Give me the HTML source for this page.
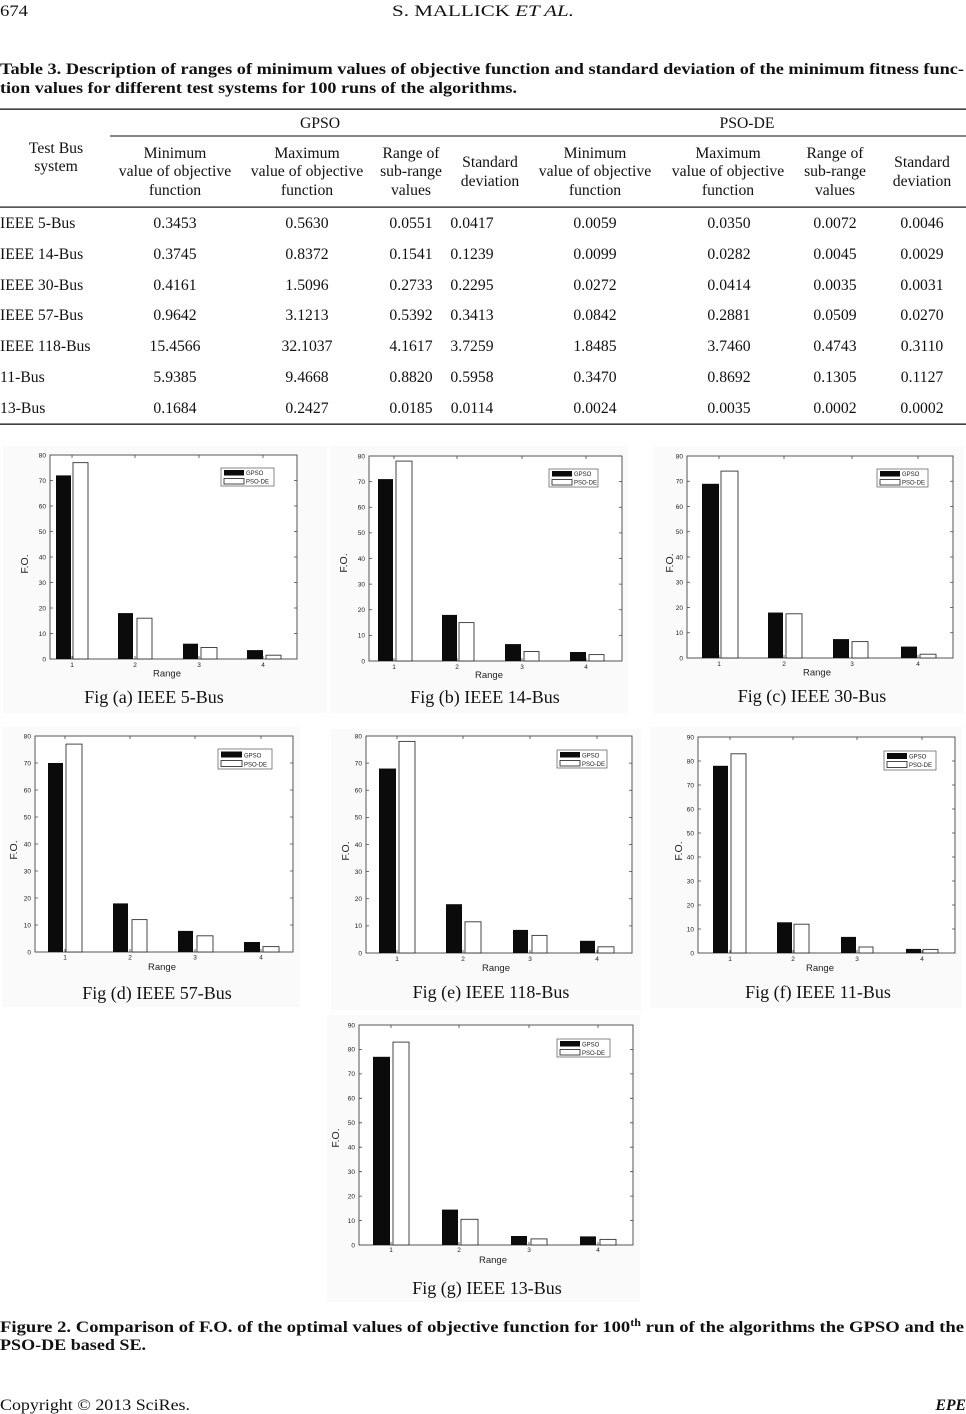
<!DOCTYPE html>
<html>
<head>
<meta charset="utf-8">
<style>
html,body{margin:0;padding:0;background:#fff;}
svg{display:block;}
.t{font-family:"Liberation Serif",serif;font-size:15.7px;fill:#111;}
.tb{font-family:"Liberation Serif",serif;font-size:15.5px;font-weight:bold;fill:#111;}
.ax{fill:#fff;stroke:#444;stroke-width:0.9;}
.tk{stroke:#444;stroke-width:0.8;fill:none;}
.bk{fill:#0b0b0b;}
.wh{fill:#fff;stroke:#333;stroke-width:0.9;}
.tl{font-family:"Liberation Sans",sans-serif;font-size:6.5px;fill:#222;}
.lg{font-family:"Liberation Sans",sans-serif;font-size:6px;fill:#222;}
.lb{font-family:"Liberation Sans",sans-serif;font-size:9.5px;fill:#222;}
.fo{font-family:"Liberation Sans",sans-serif;font-size:10.5px;fill:#222;}
.cap{font-family:"Liberation Serif",serif;font-size:18px;fill:#111;}
.pn{fill:#fafafa;}
.lgb{fill:#fff;stroke:#555;stroke-width:0.7;}
</style>
</head>
<body>
<svg width="966" height="1414" viewBox="0 0 966 1414" xmlns="http://www.w3.org/2000/svg">
<rect x="0" y="0" width="966" height="1414" fill="#fff"/>

<!-- Header -->
<text class="t" x="0" y="16" font-size="19" textLength="28" lengthAdjust="spacingAndGlyphs">674</text>
<text class="t" x="392" y="16" font-size="19" textLength="182" lengthAdjust="spacingAndGlyphs">S. MALLICK <tspan font-style="italic">ET AL.</tspan></text>

<!-- Table title -->
<text class="tb" x="0" y="74" font-size="16" textLength="964" lengthAdjust="spacingAndGlyphs">Table 3. Description of ranges of minimum values of objective function and standard deviation of the minimum fitness func-</text>
<text class="tb" x="0" y="93" font-size="16" textLength="517" lengthAdjust="spacingAndGlyphs">tion values for different test systems for 100 runs of the algorithms.</text>

<!-- Table rules -->
<rect x="0" y="108.5" width="966" height="1.3" fill="#111"/>
<rect x="110" y="135.5" width="856" height="1" fill="#111"/>
<rect x="0" y="206.5" width="966" height="1.2" fill="#111"/>
<rect x="0" y="423.5" width="966" height="1.3" fill="#111"/>

<!-- Table headers -->
<g class="t" text-anchor="middle">
<text x="320" y="128">GPSO</text>
<text x="747" y="128">PSO-DE</text>
<text x="56" y="153">Test Bus</text>
<text x="56" y="171">system</text>
<text x="175" y="158">Minimum</text>
<text x="175" y="176">value of objective</text>
<text x="175" y="195">function</text>
<text x="307" y="158">Maximum</text>
<text x="307" y="176">value of objective</text>
<text x="307" y="195">function</text>
<text x="411" y="158">Range of</text>
<text x="411" y="176">sub-range</text>
<text x="411" y="195">values</text>
<text x="490" y="167">Standard</text>
<text x="490" y="186">deviation</text>
<text x="595" y="158">Minimum</text>
<text x="595" y="176">value of objective</text>
<text x="595" y="195">function</text>
<text x="728" y="158">Maximum</text>
<text x="728" y="176">value of objective</text>
<text x="728" y="195">function</text>
<text x="835" y="158">Range of</text>
<text x="835" y="176">sub-range</text>
<text x="835" y="195">values</text>
<text x="922" y="167">Standard</text>
<text x="922" y="186">deviation</text>
</g>

<!-- Table rows -->
<g class="t">
<text x="0" y="228">IEEE 5-Bus</text>
<text x="0" y="259">IEEE 14-Bus</text>
<text x="0" y="290">IEEE 30-Bus</text>
<text x="0" y="320">IEEE 57-Bus</text>
<text x="0" y="351">IEEE 118-Bus</text>
<text x="0" y="382">11-Bus</text>
<text x="0" y="413">13-Bus</text>
</g>
<g class="t" text-anchor="middle">
<text x="175" y="228">0.3453</text><text x="307" y="228">0.5630</text><text x="411" y="228">0.0551</text><text x="472" y="228">0.0417</text><text x="595" y="228">0.0059</text><text x="729" y="228">0.0350</text><text x="835" y="228">0.0072</text><text x="922" y="228">0.0046</text>
<text x="175" y="259">0.3745</text><text x="307" y="259">0.8372</text><text x="411" y="259">0.1541</text><text x="472" y="259">0.1239</text><text x="595" y="259">0.0099</text><text x="729" y="259">0.0282</text><text x="835" y="259">0.0045</text><text x="922" y="259">0.0029</text>
<text x="175" y="290">0.4161</text><text x="307" y="290">1.5096</text><text x="411" y="290">0.2733</text><text x="472" y="290">0.2295</text><text x="595" y="290">0.0272</text><text x="729" y="290">0.0414</text><text x="835" y="290">0.0035</text><text x="922" y="290">0.0031</text>
<text x="175" y="320">0.9642</text><text x="307" y="320">3.1213</text><text x="411" y="320">0.5392</text><text x="472" y="320">0.3413</text><text x="595" y="320">0.0842</text><text x="729" y="320">0.2881</text><text x="835" y="320">0.0509</text><text x="922" y="320">0.0270</text>
<text x="175" y="351">15.4566</text><text x="307" y="351">32.1037</text><text x="411" y="351">4.1617</text><text x="472" y="351">3.7259</text><text x="595" y="351">1.8485</text><text x="729" y="351">3.7460</text><text x="835" y="351">0.4743</text><text x="922" y="351">0.3110</text>
<text x="175" y="382">5.9385</text><text x="307" y="382">9.4668</text><text x="411" y="382">0.8820</text><text x="472" y="382">0.5958</text><text x="595" y="382">0.3470</text><text x="729" y="382">0.8692</text><text x="835" y="382">0.1305</text><text x="922" y="382">0.1127</text>
<text x="175" y="413">0.1684</text><text x="307" y="413">0.2427</text><text x="411" y="413">0.0185</text><text x="472" y="413">0.0114</text><text x="595" y="413">0.0024</text><text x="729" y="413">0.0035</text><text x="835" y="413">0.0002</text><text x="922" y="413">0.0002</text>
</g>

<!-- Panel backgrounds -->
<rect class="pn" x="3" y="446" width="324" height="267"/>
<rect class="pn" x="330" y="446" width="298" height="267"/>
<rect class="pn" x="653" y="447" width="310" height="266"/>
<rect class="pn" x="2" y="727" width="298" height="280"/>
<rect class="pn" x="331" y="729" width="310" height="281"/>
<rect class="pn" x="650" y="727" width="312" height="281"/>
<rect class="pn" x="327" y="1015" width="313" height="287"/>

<!-- ===== Chart (a) ===== -->
<rect class="ax" x="50" y="455" width="247" height="204"/>
<path class="tk" d="M50 633.5h3M50 608h3M50 582.5h3M50 557h3M50 531.5h3M50 506h3M50 480.5h3M297 633.5h-3M297 608h-3M297 582.5h-3M297 557h-3M297 531.5h-3M297 506h-3M297 480.5h-3M72 659v-3M135 659v-3M199 659v-3M263 659v-3M72 455v3M135 455v3M199 455v3M263 455v3"/>
<g class="tl" text-anchor="end">
<text x="46" y="661.3">0</text><text x="46" y="635.8">10</text><text x="46" y="610.3">20</text><text x="46" y="584.8">30</text><text x="46" y="559.3">40</text><text x="46" y="533.8">50</text><text x="46" y="508.3">60</text><text x="46" y="482.8">70</text><text x="46" y="457.3">80</text>
</g>
<g class="tl" text-anchor="middle">
<text x="72" y="667">1</text><text x="135" y="667">2</text><text x="199" y="667">3</text><text x="263" y="667">4</text>
</g>
<rect class="bk" x="56" y="475.4" width="15" height="183.6"/>
<rect class="bk" x="118" y="613.1" width="15" height="45.9"/>
<rect class="bk" x="183" y="643.7" width="15" height="15.3"/>
<rect class="bk" x="247" y="650.1" width="16" height="8.9"/>
<rect class="wh" x="73" y="462.65" width="15" height="196.35"/>
<rect class="wh" x="137" y="618.2" width="15" height="40.8"/>
<rect class="wh" x="201" y="647.5" width="16" height="11.5"/>
<rect class="wh" x="266" y="655.2" width="15" height="3.8"/>
<rect class="lgb" x="221" y="468" width="53" height="18"/>
<rect class="bk" x="224" y="470" width="20" height="5.5"/>
<rect class="wh" x="224" y="478.5" width="20" height="5.5" stroke-width="0.5"/>
<text class="lg" x="246" y="475">GPSO</text>
<text class="lg" x="246" y="483.5">PSO-DE</text>
<text class="lb" x="167" y="676.5" text-anchor="middle">Range</text>
<text class="fo" transform="translate(28,564) rotate(-90)" text-anchor="middle">F.O.</text>
<text class="cap" x="154" y="703" text-anchor="middle">Fig (a) IEEE 5-Bus</text>

<!-- ===== Chart (b) ===== -->
<rect class="ax" x="369" y="456" width="253" height="205"/>
<path class="tk" d="M369 635.4h3M369 609.75h3M369 584.1h3M369 558.5h3M369 532.9h3M369 507.25h3M369 481.6h3M622 635.4h-3M622 609.75h-3M622 584.1h-3M622 558.5h-3M622 532.9h-3M622 507.25h-3M622 481.6h-3M394 661v-3M457 661v-3M522 661v-3M586 661v-3M394 456v3M457 456v3M522 456v3M586 456v3"/>
<g class="tl" text-anchor="end">
<text x="365" y="663.3">0</text><text x="365" y="637.7">10</text><text x="365" y="612">20</text><text x="365" y="586.4">30</text><text x="365" y="560.8">40</text><text x="365" y="535.2">50</text><text x="365" y="509.5">60</text><text x="365" y="483.9">70</text><text x="365" y="458.3">80</text>
</g>
<g class="tl" text-anchor="middle">
<text x="394" y="669">1</text><text x="457" y="669">2</text><text x="522" y="669">3</text><text x="586" y="669">4</text>
</g>
<rect class="bk" x="378" y="479.1" width="15" height="181.9"/>
<rect class="bk" x="442" y="614.9" width="15" height="46.1"/>
<rect class="bk" x="505" y="644.1" width="16" height="16.9"/>
<rect class="bk" x="570" y="652" width="16" height="9"/>
<rect class="wh" x="396" y="461.1" width="16" height="199.9"/>
<rect class="wh" x="459" y="622.6" width="15" height="38.4"/>
<rect class="wh" x="524" y="651.5" width="15" height="9.5"/>
<rect class="wh" x="589" y="654.6" width="15" height="6.4"/>
<rect class="lgb" x="549" y="469" width="49" height="18"/>
<rect class="bk" x="552" y="471" width="20" height="5.5"/>
<rect class="wh" x="552" y="479.5" width="20" height="5.5" stroke-width="0.5"/>
<text class="lg" x="574" y="476">GPSO</text>
<text class="lg" x="574" y="484.5">PSO-DE</text>
<text class="lb" x="489" y="678" text-anchor="middle">Range</text>
<text class="fo" transform="translate(347,563) rotate(-90)" text-anchor="middle">F.O.</text>
<text class="cap" x="485" y="703" text-anchor="middle">Fig (b) IEEE 14-Bus</text>

<!-- ===== Chart (c) ===== -->
<rect class="ax" x="687" y="456" width="266" height="202"/>
<path class="tk" d="M687 632.75h3M687 607.5h3M687 582.25h3M687 557h3M687 531.75h3M687 506.5h3M687 481.25h3M953 632.75h-3M953 607.5h-3M953 582.25h-3M953 557h-3M953 531.75h-3M953 506.5h-3M953 481.25h-3M719 658v-3M784 658v-3M852 658v-3M918 658v-3M719 456v3M784 456v3M852 456v3M918 456v3"/>
<g class="tl" text-anchor="end">
<text x="683" y="660.3">0</text><text x="683" y="635">10</text><text x="683" y="609.8">20</text><text x="683" y="584.5">30</text><text x="683" y="559.3">40</text><text x="683" y="534">50</text><text x="683" y="508.8">60</text><text x="683" y="483.5">70</text><text x="683" y="458.3">80</text>
</g>
<g class="tl" text-anchor="middle">
<text x="719" y="666">1</text><text x="784" y="666">2</text><text x="852" y="666">3</text><text x="918" y="666">4</text>
</g>
<rect class="bk" x="702" y="483.8" width="17" height="174.2"/>
<rect class="bk" x="768" y="612.55" width="15" height="45.45"/>
<rect class="bk" x="833" y="639.1" width="16" height="18.9"/>
<rect class="bk" x="901" y="646.6" width="16" height="11.4"/>
<rect class="wh" x="721" y="471.1" width="17" height="186.9"/>
<rect class="wh" x="786" y="613.8" width="16" height="44.2"/>
<rect class="wh" x="852" y="641.6" width="16" height="16.4"/>
<rect class="wh" x="920" y="654.2" width="16" height="3.8"/>
<rect class="lgb" x="877" y="469" width="51" height="18"/>
<rect class="bk" x="880" y="471" width="20" height="5.5"/>
<rect class="wh" x="880" y="479.5" width="20" height="5.5" stroke-width="0.5"/>
<text class="lg" x="902" y="476">GPSO</text>
<text class="lg" x="902" y="484.5">PSO-DE</text>
<text class="lb" x="817" y="675.5" text-anchor="middle">Range</text>
<text class="fo" transform="translate(673,563) rotate(-90)" text-anchor="middle">F.O.</text>
<text class="cap" x="812" y="702" text-anchor="middle">Fig (c) IEEE 30-Bus</text>

<!-- ===== Chart (d) ===== -->
<rect class="ax" x="35" y="736" width="258" height="216"/>
<path class="tk" d="M35 925h3M35 898h3M35 871h3M35 844h3M35 817h3M35 790h3M35 763h3M293 925h-3M293 898h-3M293 871h-3M293 844h-3M293 817h-3M293 790h-3M293 763h-3M65 952v-3M130 952v-3M195 952v-3M261 952v-3M65 736v3M130 736v3M195 736v3M261 736v3"/>
<g class="tl" text-anchor="end">
<text x="31" y="954.3">0</text><text x="31" y="927.3">10</text><text x="31" y="900.3">20</text><text x="31" y="873.3">30</text><text x="31" y="846.3">40</text><text x="31" y="819.3">50</text><text x="31" y="792.3">60</text><text x="31" y="765.3">70</text><text x="31" y="738.3">80</text>
</g>
<g class="tl" text-anchor="middle">
<text x="65" y="959.5">1</text><text x="130" y="959.5">2</text><text x="195" y="959.5">3</text><text x="261" y="959.5">4</text>
</g>
<rect class="bk" x="48" y="763" width="15" height="189"/>
<rect class="bk" x="113" y="903.4" width="15" height="48.6"/>
<rect class="bk" x="178" y="930.9" width="15" height="21.1"/>
<rect class="bk" x="244" y="942" width="16" height="10"/>
<rect class="wh" x="66" y="744.1" width="16" height="207.9"/>
<rect class="wh" x="132" y="919.6" width="15" height="32.4"/>
<rect class="wh" x="197" y="935.8" width="16" height="16.2"/>
<rect class="wh" x="263" y="946.6" width="16" height="5.4"/>
<rect class="lgb" x="218" y="749" width="54" height="20"/>
<rect class="bk" x="221" y="751.5" width="21" height="6"/>
<rect class="wh" x="221" y="760.5" width="21" height="6" stroke-width="0.5"/>
<text class="lg" x="244" y="757.5">GPSO</text>
<text class="lg" x="244" y="766.5">PSO-DE</text>
<text class="lb" x="162" y="970" text-anchor="middle">Range</text>
<text class="fo" transform="translate(17,850) rotate(-90)" text-anchor="middle">F.O.</text>
<text class="cap" x="157" y="999" text-anchor="middle">Fig (d) IEEE 57-Bus</text>

<!-- ===== Chart (e) ===== -->
<rect class="ax" x="366" y="736" width="266" height="217"/>
<path class="tk" d="M366 925.9h3M366 898.75h3M366 871.6h3M366 844.5h3M366 817.4h3M366 790.25h3M366 763.1h3M632 925.9h-3M632 898.75h-3M632 871.6h-3M632 844.5h-3M632 817.4h-3M632 790.25h-3M632 763.1h-3M397 953v-3M463 953v-3M530 953v-3M597 953v-3M397 736v3M463 736v3M530 736v3M597 736v3"/>
<g class="tl" text-anchor="end">
<text x="362" y="955.3">0</text><text x="362" y="928.2">10</text><text x="362" y="901">20</text><text x="362" y="873.9">30</text><text x="362" y="846.8">40</text><text x="362" y="819.7">50</text><text x="362" y="792.5">60</text><text x="362" y="765.4">70</text><text x="362" y="738.3">80</text>
</g>
<g class="tl" text-anchor="middle">
<text x="397" y="961">1</text><text x="463" y="961">2</text><text x="530" y="961">3</text><text x="597" y="961">4</text>
</g>
<rect class="bk" x="379" y="768.55" width="17" height="184.45"/>
<rect class="bk" x="446" y="904.2" width="16" height="48.8"/>
<rect class="bk" x="513" y="929.9" width="15" height="23.1"/>
<rect class="bk" x="580" y="940.8" width="15" height="12.2"/>
<rect class="wh" x="399" y="741.4" width="16" height="211.6"/>
<rect class="wh" x="465" y="921.8" width="16" height="31.2"/>
<rect class="wh" x="532" y="935.4" width="15" height="17.6"/>
<rect class="wh" x="598" y="946.8" width="16" height="6.2"/>
<rect class="lgb" x="557" y="750" width="50" height="18"/>
<rect class="bk" x="560" y="752" width="20" height="5.5"/>
<rect class="wh" x="560" y="760.5" width="20" height="5.5" stroke-width="0.5"/>
<text class="lg" x="582" y="757.5">GPSO</text>
<text class="lg" x="582" y="766">PSO-DE</text>
<text class="lb" x="496" y="971" text-anchor="middle">Range</text>
<text class="fo" transform="translate(349,851) rotate(-90)" text-anchor="middle">F.O.</text>
<text class="cap" x="491" y="998" text-anchor="middle">Fig (e) IEEE 118-Bus</text>

<!-- ===== Chart (f) ===== -->
<rect class="ax" x="698" y="737" width="257" height="216"/>
<path class="tk" d="M698 929h3M698 905h3M698 881h3M698 857h3M698 833h3M698 809h3M698 785h3M698 761h3M955 929h-3M955 905h-3M955 881h-3M955 857h-3M955 833h-3M955 809h-3M955 785h-3M955 761h-3M730 953v-3M793 953v-3M857 953v-3M922 953v-3M730 737v3M793 737v3M857 737v3M922 737v3"/>
<g class="tl" text-anchor="end">
<text x="694" y="955.3">0</text><text x="694" y="931.3">10</text><text x="694" y="907.3">20</text><text x="694" y="883.3">30</text><text x="694" y="859.3">40</text><text x="694" y="835.3">50</text><text x="694" y="811.3">60</text><text x="694" y="787.3">70</text><text x="694" y="763.3">80</text><text x="694" y="739.3">90</text>
</g>
<g class="tl" text-anchor="middle">
<text x="730" y="961">1</text><text x="793" y="961">2</text><text x="857" y="961">3</text><text x="922" y="961">4</text>
</g>
<rect class="bk" x="713" y="765.8" width="15" height="187.2"/>
<rect class="bk" x="777" y="922.3" width="15" height="30.7"/>
<rect class="bk" x="841" y="936.9" width="15" height="16.1"/>
<rect class="bk" x="906" y="948.9" width="15" height="4.1"/>
<rect class="wh" x="731" y="753.8" width="15" height="199.2"/>
<rect class="wh" x="794" y="924.2" width="15" height="28.8"/>
<rect class="wh" x="859" y="947" width="14" height="6"/>
<rect class="wh" x="923" y="949.4" width="15" height="3.6"/>
<rect class="lgb" x="884" y="751" width="52" height="19"/>
<rect class="bk" x="887" y="753" width="20" height="6"/>
<rect class="wh" x="887" y="761.5" width="20" height="6" stroke-width="0.5"/>
<text class="lg" x="909" y="758.5">GPSO</text>
<text class="lg" x="909" y="767">PSO-DE</text>
<text class="lb" x="820" y="971" text-anchor="middle">Range</text>
<text class="fo" transform="translate(682,851) rotate(-90)" text-anchor="middle">F.O.</text>
<text class="cap" x="818" y="998" text-anchor="middle">Fig (f) IEEE 11-Bus</text>

<!-- ===== Chart (g) ===== -->
<rect class="ax" x="359" y="1025" width="274" height="220"/>
<path class="tk" d="M359 1220.6h3M359 1196.1h3M359 1171.7h3M359 1147.2h3M359 1122.8h3M359 1098.3h3M359 1073.9h3M359 1049.4h3M633 1220.6h-3M633 1196.1h-3M633 1171.7h-3M633 1147.2h-3M633 1122.8h-3M633 1098.3h-3M633 1073.9h-3M633 1049.4h-3M391 1245v-3M459 1245v-3M529 1245v-3M598 1245v-3M391 1025v3M459 1025v3M529 1025v3M598 1025v3"/>
<g class="tl" text-anchor="end">
<text x="355" y="1247.3">0</text><text x="355" y="1222.9">10</text><text x="355" y="1198.4">20</text><text x="355" y="1174">30</text><text x="355" y="1149.5">40</text><text x="355" y="1125.1">50</text><text x="355" y="1100.6">60</text><text x="355" y="1076.2">70</text><text x="355" y="1051.7">80</text><text x="355" y="1027.3">90</text>
</g>
<g class="tl" text-anchor="middle">
<text x="391" y="1252">1</text><text x="459" y="1252">2</text><text x="529" y="1252">3</text><text x="598" y="1252">4</text>
</g>
<rect class="bk" x="373" y="1056.8" width="17" height="188.2"/>
<rect class="bk" x="442" y="1209.6" width="16" height="35.4"/>
<rect class="bk" x="511" y="1236" width="16" height="9"/>
<rect class="bk" x="580" y="1236.4" width="16" height="8.6"/>
<rect class="wh" x="393" y="1042.1" width="16" height="202.9"/>
<rect class="wh" x="461" y="1219.3" width="17" height="25.7"/>
<rect class="wh" x="531" y="1238.9" width="16" height="6.1"/>
<rect class="wh" x="600" y="1239.4" width="16" height="5.6"/>
<rect class="lgb" x="557" y="1039" width="53" height="18"/>
<rect class="bk" x="560" y="1041" width="20" height="5.5"/>
<rect class="wh" x="560" y="1049.5" width="20" height="5.5" stroke-width="0.5"/>
<text class="lg" x="582" y="1046.5">GPSO</text>
<text class="lg" x="582" y="1055">PSO-DE</text>
<text class="lb" x="493" y="1263" text-anchor="middle">Range</text>
<text class="fo" transform="translate(339,1138) rotate(-90)" text-anchor="middle">F.O.</text>
<text class="cap" x="487" y="1294" text-anchor="middle">Fig (g) IEEE 13-Bus</text>

<!-- Figure caption -->
<text class="tb" x="0" y="1332" font-size="16.5" textLength="964" lengthAdjust="spacingAndGlyphs">Figure 2. Comparison of F.O. of the optimal values of objective function for 100<tspan font-size="10" dy="-6">th</tspan><tspan dy="6"> run of the algorithms the GPSO and the</tspan></text>
<text class="tb" x="0" y="1350" font-size="16.5" textLength="146" lengthAdjust="spacingAndGlyphs">PSO-DE based SE.</text>

<!-- Footer -->
<text class="t" x="0" y="1410" font-size="16.5" textLength="190" lengthAdjust="spacingAndGlyphs">Copyright © 2013 SciRes.</text>
<text class="t" x="966" y="1410" font-size="16.5" font-weight="bold" font-style="italic" text-anchor="end">EPE</text>
</svg>
</body>
</html>
